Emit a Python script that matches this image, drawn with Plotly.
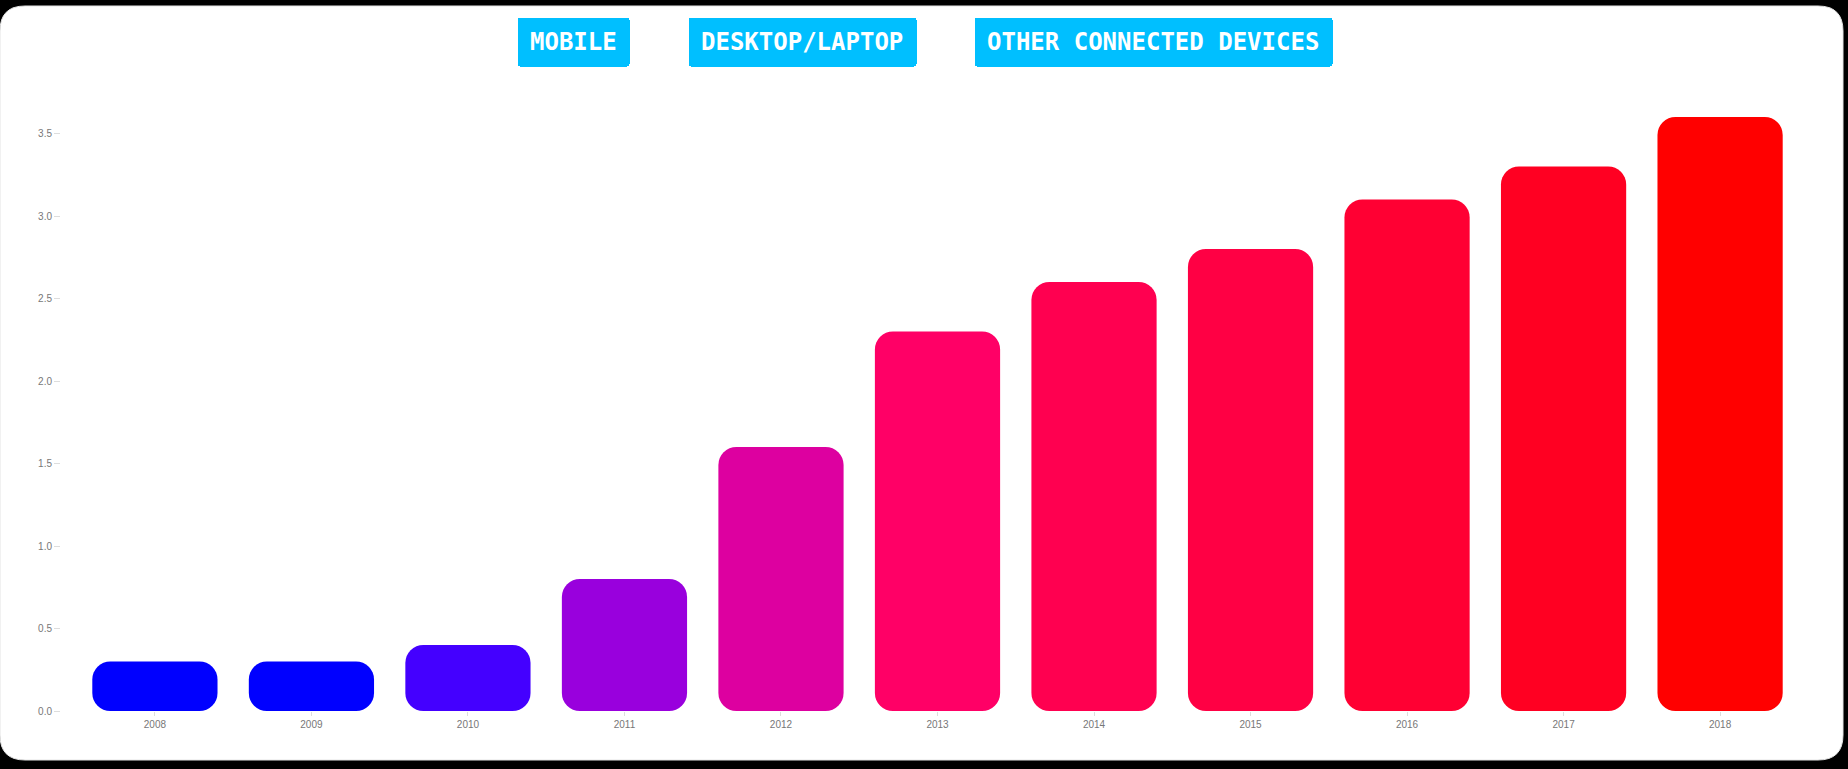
import plotly.graph_objects as go

years = ["2008", "2009", "2010", "2011", "2012", "2013", "2014", "2015", "2016", "2017", "2018"]
values = [0.3, 0.3, 0.4, 0.8, 1.6, 2.3, 2.6, 2.8, 3.1, 3.3, 3.6]
colors = ["#0000FF", "#0000FF", "#4400FF", "#9900DD", "#DD00A0", "#FF0066",
          "#FF0050", "#FF0044", "#FF0033", "#FF0022", "#FF0000"]
button_labels = ["MOBILE", "DESKTOP/LAPTOP", "OTHER CONNECTED DEVICES"]
y_ticks = [0.0, 0.5, 1.0, 1.5, 2.0, 2.5, 3.0, 3.5]

W, H = 1848, 769
ML, MR, MT, MB = 61, 34, 84, 58
PW, PH = W - ML - MR, H - MT - MB


def px2x(px):
    return (px - ML) / PW


def py2y(py):
    return 1 - (py - MT) / PH


# An explicit base makes Plotly round both ends of each bar
bases = [0 for _ in values]

fig = go.Figure()
fig.add_trace(go.Bar(x=years, y=values, base=bases,
                     marker=dict(color=colors, line=dict(width=0)),
                     hoverinfo="skip", showlegend=False))

# White rounded panel
x0, x1 = px2x(0), px2x(1843)
y0, y1 = py2y(760), py2y(6)
r = 25
rx, ry = r / PW, r / PH
path = (f"M {x0+rx},{y1} L {x1-rx},{y1} Q {x1},{y1} {x1},{y1-ry} "
        f"L {x1},{y0+ry} Q {x1},{y0} {x1-rx},{y0} L {x0+rx},{y0} "
        f"Q {x0},{y0} {x0},{y0+ry} L {x0},{y1-ry} Q {x0},{y1} {x0+rx},{y1} Z")
fig.add_shape(type="path", path=path, xref="paper", yref="paper",
              fillcolor="white", line=dict(color="#e4e4e4", width=1), layer="below")

btn_cx = [572, 801, 1152.5]
menus = []
for lab, bx in zip(button_labels, btn_cx):
    menus.append(dict(
        type="buttons", direction="right", active=-1,
        x=px2x(bx), y=py2y(16.5), xanchor="center", yanchor="top",
        pad=dict(l=0, r=0, t=0, b=0),
        bgcolor="#00BFFF", bordercolor="#00BFFF", borderwidth=1,
        font=dict(family="DejaVu Sans Mono", size=34, color="white"),
        showactive=False,
        buttons=[dict(label=f"<span style='font-size:24px;baseline-shift:-5px'><b>{lab}</b></span>",
                      method="skip", args=[None])],
    ))

fig.update_layout(
    width=W, height=H,
    margin=dict(l=ML, r=MR, t=MT, b=MB),
    paper_bgcolor="black",
    plot_bgcolor="rgba(0,0,0,0)",
    barmode="overlay",
    bargap=0.2,
    barcornerradius=18,
    updatemenus=menus,
    xaxis=dict(type="category", range=[-0.6, 10.6], showgrid=False, zeroline=False,
               showline=False, ticks="outside", ticklen=4, tickcolor="#dddddd",
               tickfont=dict(family="Liberation Sans, Arial", size=10, color="#777777"),
               fixedrange=True),
    yaxis=dict(range=[0, PH / 165.0], showgrid=False, zeroline=False, showline=False,
               tickvals=y_ticks, tickformat=".1f", ticks="outside", ticklen=6,
               tickcolor="#dddddd",
               tickfont=dict(family="Liberation Sans, Arial", size=10, color="#777777"),
               fixedrange=True),
)

fig.write_html("out.html", config={"displayModeBar": False},
               post_script="document.body.style.margin='0';document.body.style.overflow='hidden';")
